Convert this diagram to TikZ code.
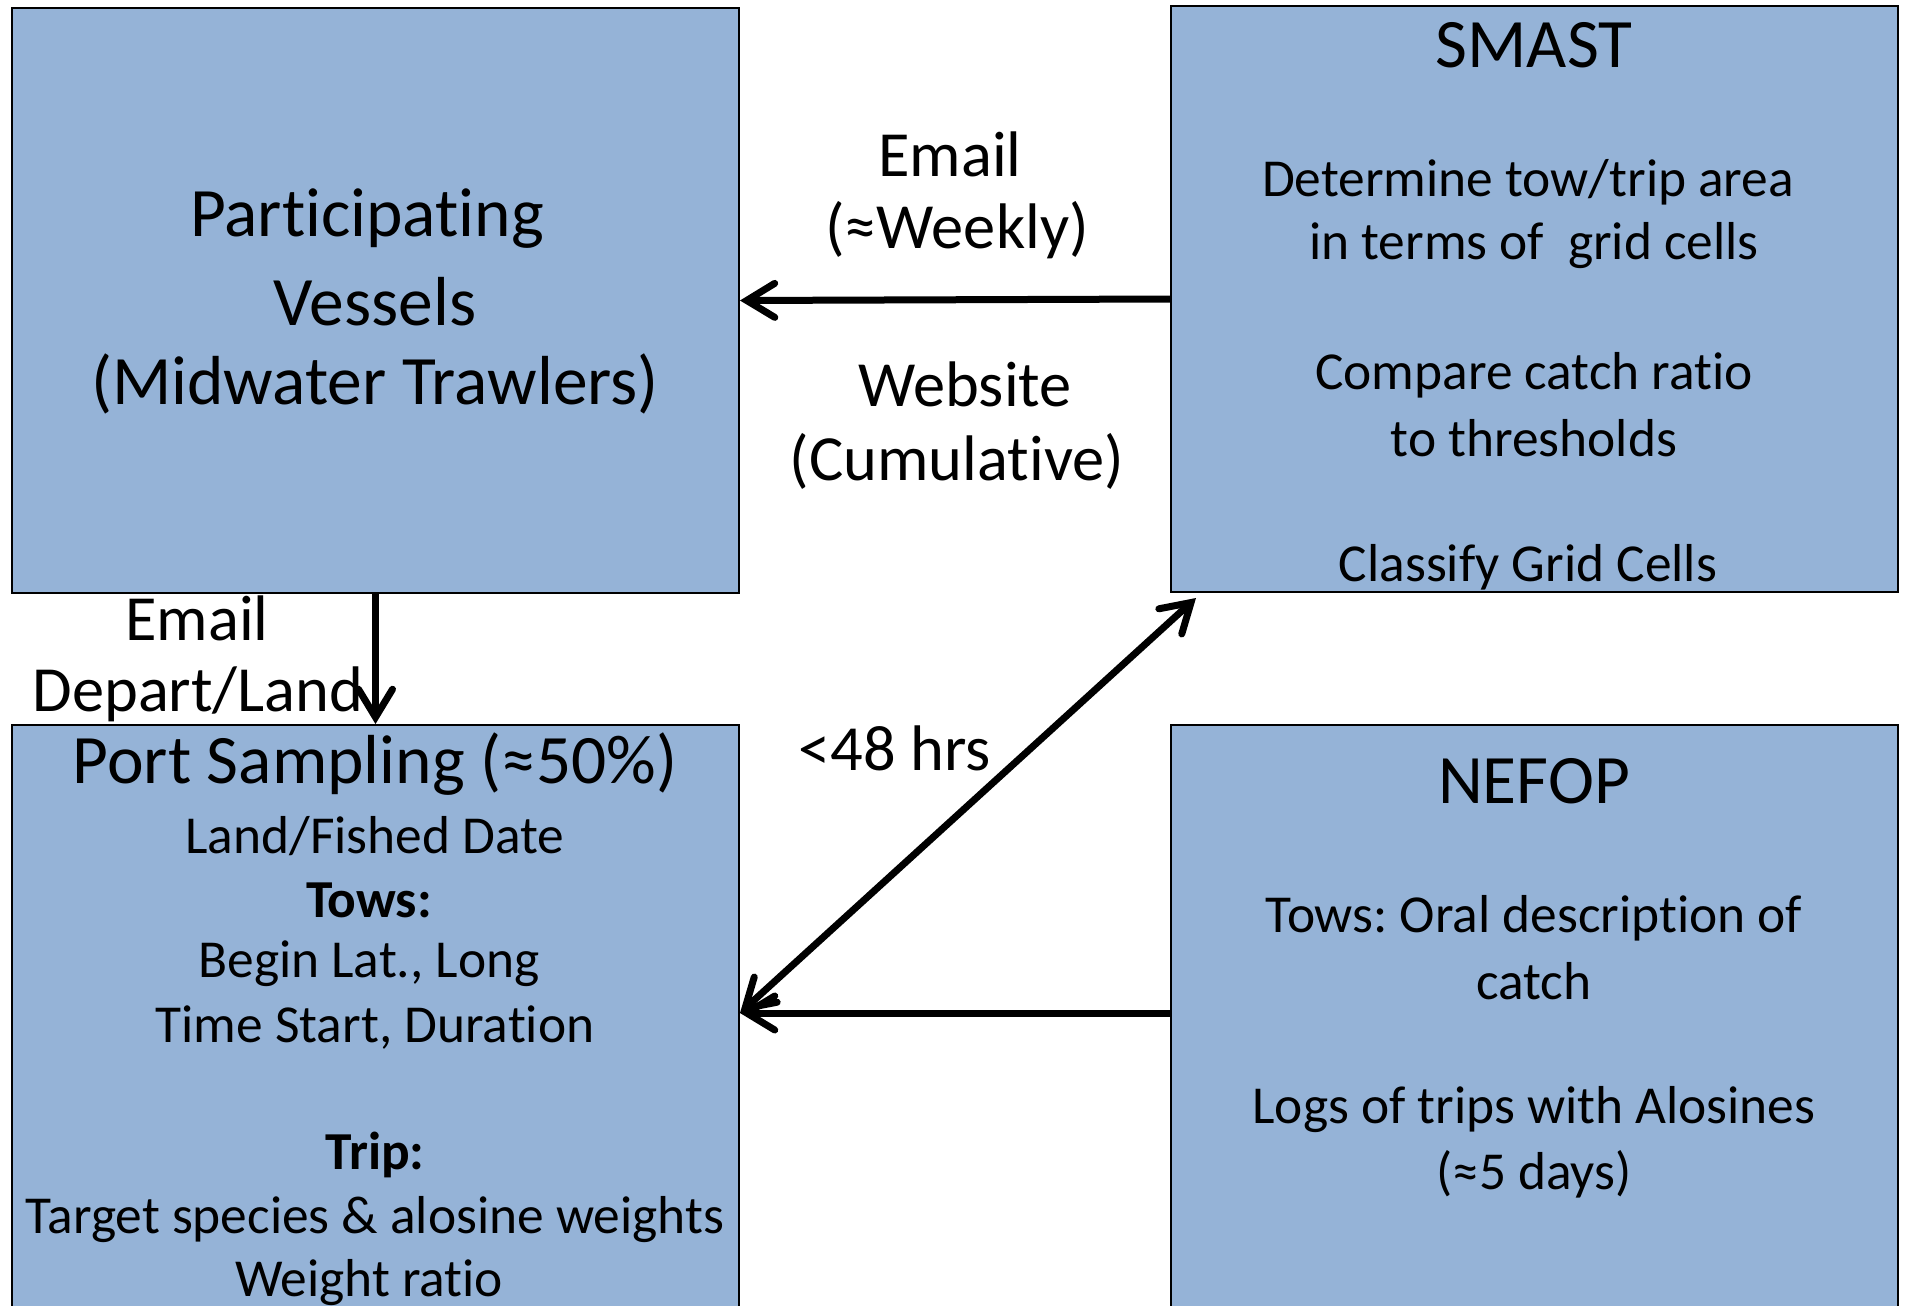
\documentclass[tikz,border=0pt]{standalone}
\usepackage{fontspec}
\setmainfont{Carlito}[Ligatures=NoCommon]
\usetikzlibrary{arrows.meta,calc}
\newcommand{\fsz}[1]{\fontsize{#1}{#1}\selectfont}
\definecolor{boxblue}{HTML}{95B3D7}
\frenchspacing
\tikzset{
  box/.style={draw=black, line width=1pt, fill=boxblue, anchor=north west, inner sep=0pt},
  txt/.style={inner sep=0pt, anchor=center},
  arr/.style={line width=3.5pt, -{Straight Barb[length=14pt,width=17pt,line cap=round]}},
  darr/.style={line width=3.5pt, {Straight Barb[length=14pt,width=17pt,line cap=round]}-{Straight Barb[length=14pt,width=17pt,line cap=round]}}
}
\begin{document}
\begin{tikzpicture}[x=0.5pt,y=-0.5pt]
\useasboundingbox (0,0) rectangle (1907,1306);
\clip (0,0) rectangle (1907,1306);
% boxes
\node[box, minimum width=363.5pt, minimum height=292.5pt] (pv) at (11,7) {};
\node[box, minimum width=363.5pt, minimum height=293pt] (smast) at (1170,5) {};
\node[box, minimum width=363.5pt, minimum height=300pt] (ps) at (11,724) {};
\node[box, minimum width=363.5pt, minimum height=300pt] (nefop) at (1170,724) {};
% Participating vessels
\node[txt, font=\fsz{34.7}] (pv1) at (367,219) {Participating};
\node[txt, font=\fsz{34.7}] (pv2) at (375,302) {Vessels};
\node[txt, font=\fsz{34.7}] (pv3) at (375,384) {(Midwater Trawlers)};
% middle labels
\node[txt, font=\fsz{32.2}] (m1) at (950,154) {Email};
\node[txt, font=\fsz{32.2}] (m2) at (957,230) {(≈Weekly)};
\node[txt, font=\fsz{32.2}] (m3) at (965,384) {Website};
\node[txt, font=\fsz{32.2}] (m4) at (957,461) {(Cumulative)};
\node[txt, font=\fsz{32.2}] (m5) at (895,748) {<48 hrs};
% SMAST
\node[txt, font=\fsz{34.7}] (s0) at (1534,45) {SMAST};
\node[txt, font=\fsz{26.7}] (s1) at (1528,182) {Determine tow/trip area};
\node[txt, font=\fsz{26.7}] (s2) at (1534,246) {in terms of\ \ grid cells};
\node[txt, font=\fsz{26.7}] (s3) at (1534,375) {Compare catch ratio};
\node[txt, font=\fsz{26.7}] (s4) at (1534,438) {to thresholds};
\node[txt, font=\fsz{26.7}] (s5) at (1528,567) {Classify Grid Cells};
% left labels
\node[txt, font=\fsz{32.2}] (e1) at (197,618) {Email};
\node[txt, font=\fsz{32.2}] (e2) at (198,694) {Depart/Land};
% Port sampling
\node[txt, font=\fsz{34.7}] (p0) at (375,764) {Port Sampling (≈50\%)};
\node[txt, font=\fsz{26.7}] (p1) at (375,836) {Land/Fished Date};
\node[txt, font=\fsz{26.7}] (p2) at (369,900) {\textbf{Tows:}};
\node[txt, font=\fsz{26.7}] (p3) at (369,964) {Begin Lat., Long};
\node[txt, font=\fsz{26.7}] (p4) at (375,1028) {Time Start, Duration};
\node[txt, font=\fsz{26.7}] (p5) at (375,1155) {\textbf{Trip:}};
\node[txt, font=\fsz{26.7}] (p6) at (375,1220) {Target species \& alosine weights};
\node[txt, font=\fsz{26.7}] (p7) at (369,1283) {Weight ratio};
% NEFOP
\node[txt, font=\fsz{34.7}] (n0) at (1534,781) {NEFOP};
\node[txt, font=\fsz{26.7}] (n1) at (1534,918) {Tows: Oral description of};
\node[txt, font=\fsz{26.7}] (n2) at (1534,981) {catch};
\node[txt, font=\fsz{26.7}] (n3) at (1534,1110) {Logs of trips with Alosines};
\node[txt, font=\fsz{26.7}] (n4) at (1534,1174) {(≈5 days)};
% connector points
\coordinate (psin) at ($(ps.north east)+(0,289)$);
\coordinate (nefout) at ($(nefop.north west)+(0,289)$);
\coordinate (smin) at ($(smast.south west)+(26,5)$);
% arrows
\draw[arr] (smast.west) -- (pv.east);
\draw[arr] (pv.south) -- (ps.north);
\draw[arr] (nefout) -- (psin);
\draw[darr] (psin) -- (smin);
\end{tikzpicture}
\end{document}
